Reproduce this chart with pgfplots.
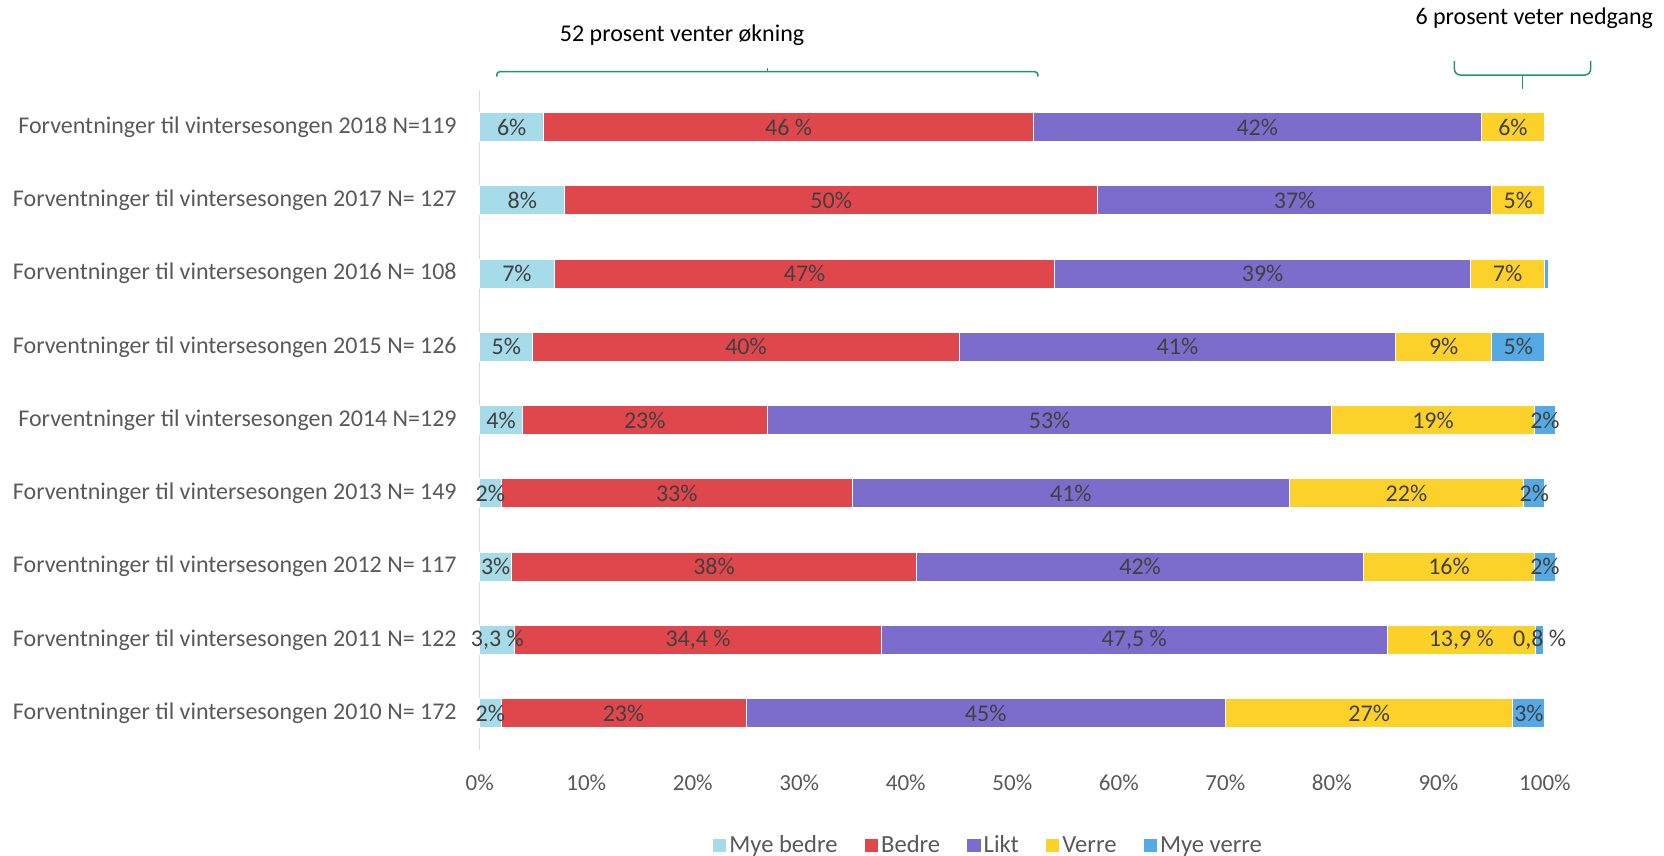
\documentclass[border=0pt]{standalone}
\usepackage{pgfplots}
\pgfplotsset{compat=1.18}
\usepackage{pgfplotstable}
\usepackage{fontspec}
\setmainfont{Carlito}

\definecolor{myebedre}{RGB}{166,220,234}
\definecolor{bedre}{RGB}{224,71,76}
\definecolor{likt}{RGB}{124,109,205}
\definecolor{verre}{RGB}{252,210,42}
\definecolor{myeverre}{RGB}{85,170,230}
\definecolor{axisgray}{RGB}{217,217,217}
\definecolor{ticktext}{RGB}{89,89,89}
\definecolor{labeltext}{RGB}{64,64,64}
\definecolor{bracegreen}{RGB}{33,150,104}

\newcommand\pct{\%}
\newcommand\spct{\ \%}
\newcommand\nolab{}

% shares per season (pos 8 = 2018 at the top, pos 0 = 2010 at the bottom)
% a = Mye bedre, b = Bedre, c = Likt, d = Verre, e = Mye verre; la..le = printed labels
\pgfplotstableread{
pos a b c d e la lb lc ld le
8 6 46 42 6 0 {6\pct} {46\spct} {42\pct} {6\pct} {\nolab}
7 8 50 37 5 0 {8\pct} {50\pct} {37\pct} {5\pct} {\nolab}
6 7 47 39 7 0.3 {7\pct} {47\pct} {39\pct} {7\pct} {\nolab}
5 5 40 41 9 5 {5\pct} {40\pct} {41\pct} {9\pct} {5\pct}
4 4 23 53 19 2 {4\pct} {23\pct} {53\pct} {19\pct} {2\pct}
3 2 33 41 22 2 {2\pct} {33\pct} {41\pct} {22\pct} {2\pct}
2 3 38 42 16 2 {3\pct} {38\pct} {42\pct} {16\pct} {2\pct}
1 3.3 34.4 47.5 13.9 0.8 {3,3\spct} {34,4\spct} {47,5\spct} {13,9\spct} {0,8\spct}
0 2 23 45 27 3 {2\pct} {23\pct} {45\pct} {27\pct} {3\pct}
}\shares

\pgfplotsset{
  frame/.style={
    scale only axis, width=532.6pt, height=329.5pt,
    xmin=0, xmax=100, ymin=-0.5, ymax=8.5,
    at={(239.85pt,53.2pt)}, anchor=south west, clip=false,
  },
  sqlegend/.style={
    legend image code/.code={\fill[##1,draw=none] (0pt,-3.3pt) rectangle (6.75pt,3.3pt);}
  },
  seglabel/.style={
    draw=none, mark=none, forget plot,
    nodes near coords, point meta=explicit symbolic,
    nodes near coords align=center,
    every node near coord/.append style={anchor=center, text=labeltext,
      font=\fontsize{12}{14}\selectfont, inner sep=0pt},
  },
}

\begin{document}
\begin{tikzpicture}
\path[use as bounding box] (0,0) rectangle (832pt,428pt);

\begin{axis}[
  frame,
  xbar stacked, bar width=14.5pt,
  axis x line*=bottom, x axis line style={draw=none},
  axis y line*=left, y axis line style={draw=axisgray, line width=0.7pt},
  major tick length=0pt,
  xtick={0,10,...,100},
  xticklabels={0\%,10\%,20\%,30\%,40\%,50\%,60\%,70\%,80\%,90\%,100\%},
  xticklabel style={font=\fontsize{11.5}{13}\selectfont, text=ticktext, yshift=-9pt},
  ytick={0,...,8},
  yticklabels={
    Forventninger til vintersesongen 2010 N= 172,
    Forventninger til vintersesongen 2011 N= 122,
    Forventninger til vintersesongen 2012 N= 117,
    Forventninger til vintersesongen 2013 N= 149,
    Forventninger til vintersesongen 2014 N=129,
    Forventninger til vintersesongen 2015 N= 126,
    Forventninger til vintersesongen 2016 N= 108,
    Forventninger til vintersesongen 2017 N= 127,
    Forventninger til vintersesongen 2018 N=119},
  yticklabel style={font=\fontsize{12}{14}\selectfont, text=ticktext, xshift=-8pt},
  every axis plot post/.append style={sqlegend},
  legend columns=-1,
  legend style={at={(0.478,-0.146)}, anchor=center, draw=none, fill=none,
    font=\fontsize{12.3}{14}\selectfont, text=ticktext,
    nodes={inner xsep=1.5pt, inner ysep=0pt},
    /tikz/every even column/.append style={column sep=12pt}},
]
\addplot[fill=myebedre, draw=white, line width=0.5pt] table[x=a, y=pos] {\shares};
\addplot[fill=bedre,    draw=white, line width=0.5pt] table[x=b, y=pos] {\shares};
\addplot[fill=likt,     draw=white, line width=0.5pt] table[x=c, y=pos] {\shares};
\addplot[fill=verre,    draw=white, line width=0.5pt] table[x=d, y=pos] {\shares};
\addplot[fill=myeverre, draw=white, line width=0.5pt] table[x=e, y=pos] {\shares};
\legend{Mye bedre, Bedre, Likt, Verre, Mye verre}
\end{axis}

% segment labels, centred in each segment
\begin{axis}[frame, hide axis]
\addplot[seglabel] table[x expr=\thisrow{a}/2, y=pos, meta=la] {\shares};
\addplot[seglabel] table[x expr=\thisrow{a}+\thisrow{b}/2, y=pos, meta=lb] {\shares};
\addplot[seglabel] table[x expr=\thisrow{a}+\thisrow{b}+\thisrow{c}/2, y=pos, meta=lc] {\shares};
\addplot[seglabel] table[x expr=\thisrow{a}+\thisrow{b}+\thisrow{c}+\thisrow{d}/2, y=pos, meta=ld] {\shares};
\addplot[seglabel] table[x expr=\thisrow{a}+\thisrow{b}+\thisrow{c}+\thisrow{d}+\thisrow{e}/2, y=pos, meta=le] {\shares};

% brackets and notes above the bars
\draw[bracegreen, line width=0.75pt, rounded corners=1.5pt]
  (axis cs:1.6,8.69) -- (axis cs:1.6,8.758) -- (axis cs:52.4,8.758) -- (axis cs:52.4,8.69);
\draw[bracegreen, line width=0.75pt] (axis cs:27,8.758) -- (axis cs:27,8.81);
\draw[bracegreen, line width=0.75pt, rounded corners=3pt]
  (axis cs:91.5,8.904) -- (axis cs:91.5,8.713) -- (axis cs:104.3,8.713) -- (axis cs:104.3,8.904);
\draw[bracegreen, line width=0.75pt] (axis cs:97.9,8.713) -- (axis cs:97.9,8.522);
\node[font=\fontsize{12}{14}\selectfont, text=black] at (axis cs:19,9.26) {52 prosent venter økning};
\node[font=\fontsize{12}{14}\selectfont, text=black, anchor=east] at (axis cs:110.8,9.49) {6 prosent veter nedgang};
\end{axis}
\end{tikzpicture}
\end{document}
